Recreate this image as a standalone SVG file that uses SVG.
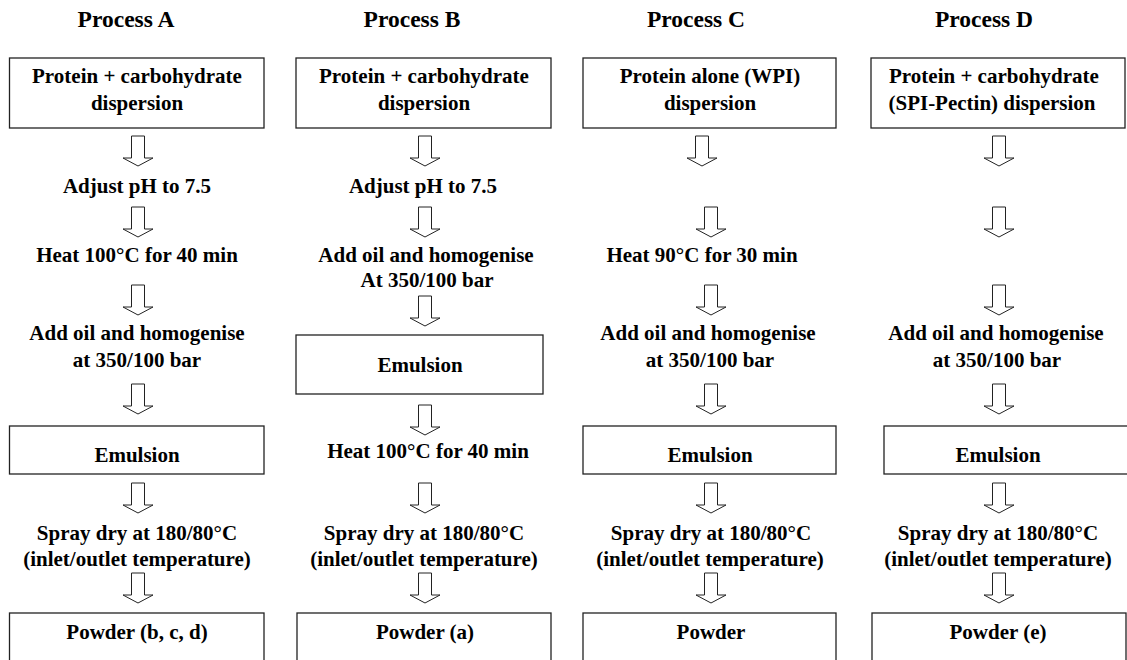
<svg xmlns="http://www.w3.org/2000/svg" xmlns:xlink="http://www.w3.org/1999/xlink" width="1127" height="660" viewBox="0 0 1127 660">
<style>
text{font-family:"Liberation Serif","Times New Roman",serif;font-weight:bold;fill:#000;text-anchor:middle}
.t{font-size:21px}
.h{font-size:23.5px}
.box{fill:#fff;stroke:#222;stroke-width:1.3}
.arr{fill:#fff;stroke:#222;stroke-width:1}
</style>
<defs>
<path id="arr" class="arr" d="M-6.5,0 H6.5 V22 H15 L0,30 L-15,22 H-6.5 Z"/>
</defs>
<rect width="1127" height="660" fill="#fff"/>
<g id="titles">
<text class="h" x="126" y="27">Process A</text>
<text class="h" x="412" y="27">Process B</text>
<text class="h" x="696" y="27">Process C</text>
<text class="h" x="984" y="27">Process D</text>
</g>
<g id="connectors">
<use xlink:href="#arr" x="138" y="136"/>
<use xlink:href="#arr" x="138" y="207"/>
<use xlink:href="#arr" x="138" y="285"/>
<use xlink:href="#arr" x="138" y="384"/>
<use xlink:href="#arr" x="138" y="483"/>
<use xlink:href="#arr" x="138" y="573"/>
<use xlink:href="#arr" x="425" y="136"/>
<use xlink:href="#arr" x="425" y="207"/>
<use xlink:href="#arr" x="425" y="296"/>
<use xlink:href="#arr" x="425" y="405"/>
<use xlink:href="#arr" x="425" y="483"/>
<use xlink:href="#arr" x="425" y="573"/>
<use xlink:href="#arr" x="702" y="136"/>
<use xlink:href="#arr" x="711" y="207"/>
<use xlink:href="#arr" x="711" y="285"/>
<use xlink:href="#arr" x="711" y="384"/>
<use xlink:href="#arr" x="711" y="483"/>
<use xlink:href="#arr" x="711" y="573"/>
<use xlink:href="#arr" x="999" y="136"/>
<use xlink:href="#arr" x="999" y="207"/>
<use xlink:href="#arr" x="999" y="285"/>
<use xlink:href="#arr" x="999" y="384"/>
<use xlink:href="#arr" x="999" y="483"/>
<use xlink:href="#arr" x="999" y="573"/>
</g>
<g id="A1"><rect class="box" x="9.5" y="58" width="254.5" height="70"/><text class="t" x="137" y="83">Protein + carbohydrate</text><text class="t" x="137" y="110">dispersion</text></g>
<g id="A2"><text class="t" x="137" y="193">Adjust pH to 7.5</text></g>
<g id="A3"><text class="t" x="137" y="262">Heat 100°C for 40 min</text></g>
<g id="A4"><text class="t" x="137" y="340">Add oil and homogenise</text><text class="t" x="137" y="367">at 350/100 bar</text></g>
<g id="A5"><rect class="box" x="9.5" y="426" width="254.5" height="48"/><text class="t" x="137" y="462">Emulsion</text></g>
<g id="A6"><text class="t" x="137" y="540">Spray dry at 180/80°C</text><text class="t" x="137" y="566">(inlet/outlet temperature)</text></g>
<g id="A7"><rect class="box" x="9.5" y="613" width="254.5" height="60"/><text class="t" x="137" y="639">Powder (b, c, d)</text></g>
<g id="B1"><rect class="box" x="296" y="58" width="255" height="70"/><text class="t" x="424" y="83">Protein + carbohydrate</text><text class="t" x="424" y="110">dispersion</text></g>
<g id="B2"><text class="t" x="423" y="193">Adjust pH to 7.5</text></g>
<g id="B3"><text class="t" x="426" y="262">Add oil and homogenise</text><text class="t" x="427" y="287">At 350/100 bar</text></g>
<g id="B4"><rect class="box" x="296" y="335" width="247" height="59"/><text class="t" x="420" y="372">Emulsion</text></g>
<g id="B5"><text class="t" x="428" y="458">Heat 100°C for 40 min</text></g>
<g id="B6"><text class="t" x="424" y="540">Spray dry at 180/80°C</text><text class="t" x="424" y="566">(inlet/outlet temperature)</text></g>
<g id="B7"><rect class="box" x="297" y="613" width="254" height="60"/><text class="t" x="425" y="639">Powder (a)</text></g>
<g id="C1"><rect class="box" x="583" y="58" width="253" height="70"/><text class="t" x="710" y="83">Protein alone (WPI)</text><text class="t" x="710" y="110">dispersion</text></g>
<g id="C2"><text class="t" x="702" y="262">Heat 90°C for 30 min</text></g>
<g id="C3"><text class="t" x="708" y="340">Add oil and homogenise</text><text class="t" x="710" y="367">at 350/100 bar</text></g>
<g id="C4"><rect class="box" x="583" y="426" width="253" height="48"/><text class="t" x="710" y="462">Emulsion</text></g>
<g id="C5"><text class="t" x="711" y="540">Spray dry at 180/80°C</text><text class="t" x="710" y="566">(inlet/outlet temperature)</text></g>
<g id="C6"><rect class="box" x="583" y="613" width="253" height="60"/><text class="t" x="711" y="639">Powder</text></g>
<g id="D1"><rect class="box" x="871" y="58" width="254" height="70"/><text class="t" x="994" y="83">Protein + carbohydrate</text><text class="t" x="992" y="110">(SPI-Pectin) dispersion</text></g>
<g id="D2"><text class="t" x="996" y="340">Add oil and homogenise</text><text class="t" x="997" y="367">at 350/100 bar</text></g>
<g id="D3"><rect class="box" x="884" y="426" width="260" height="48"/><text class="t" x="998" y="462">Emulsion</text></g>
<g id="D4"><text class="t" x="998" y="540">Spray dry at 180/80°C</text><text class="t" x="998" y="566">(inlet/outlet temperature)</text></g>
<g id="D5"><rect class="box" x="872" y="613" width="254" height="60"/><text class="t" x="998" y="639">Powder (e)</text></g>
</svg>
